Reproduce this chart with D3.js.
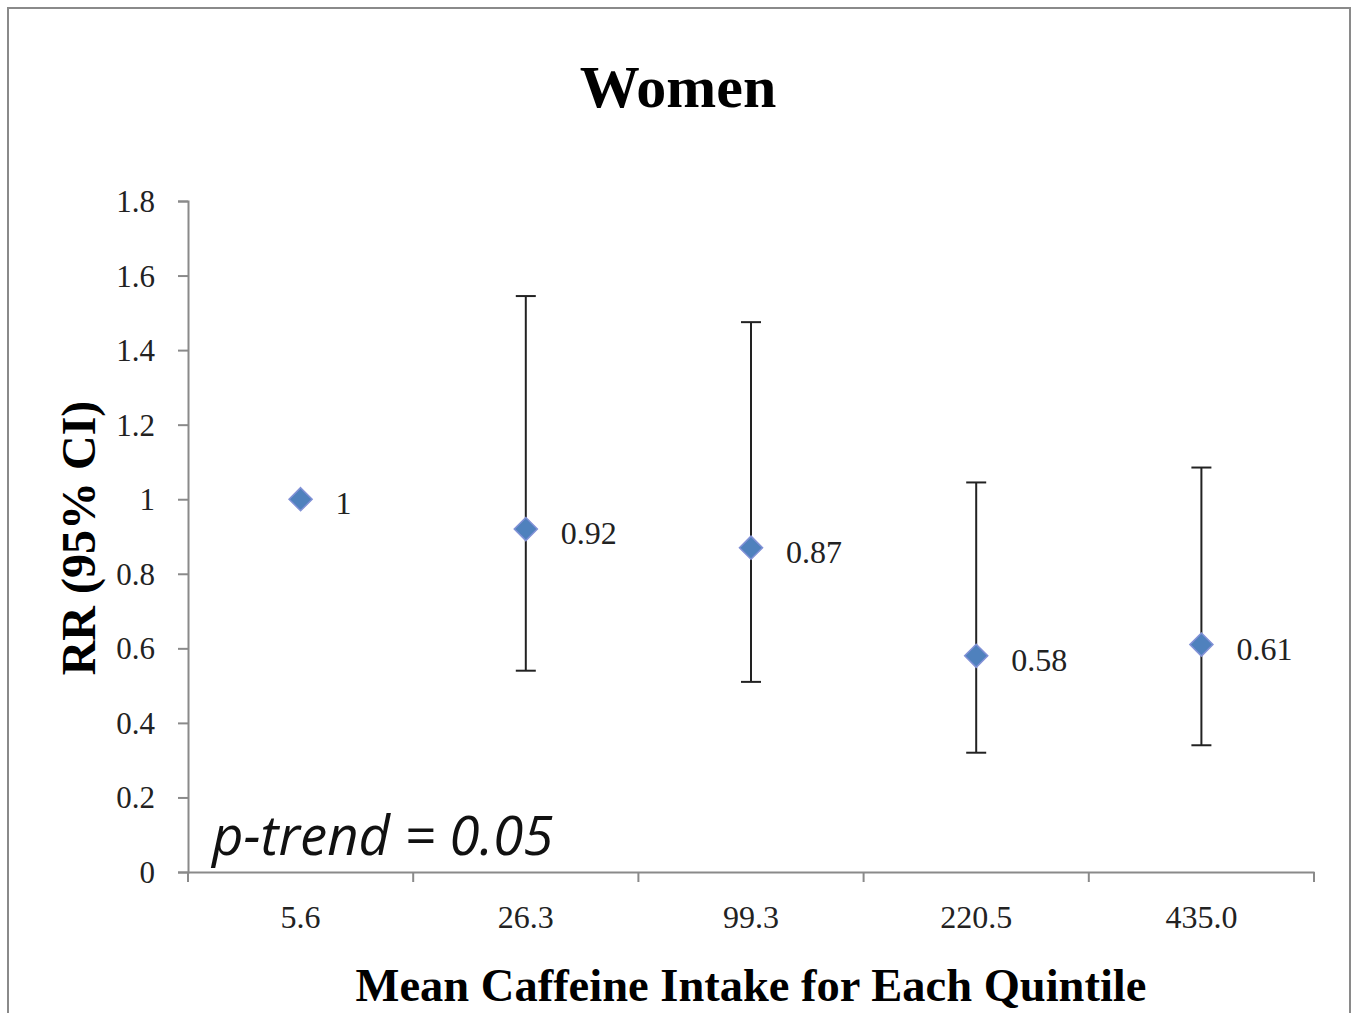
<!DOCTYPE html>
<html>
<head>
<meta charset="utf-8">
<script src="https://cdn.jsdelivr.net/npm/d3@7"></script>
<style>
  body { margin: 0; background: #fff; }
</style>
</head>
<body>
<script>
// quintile means and relative risks
var categories = ["5.6", "26.3", "99.3", "220.5", "435.0"];
var rr    = [1, 0.92, 0.87, 0.58, 0.61];
var lower = [null, 0.54, 0.51, 0.32, 0.34];
var upper = [null, 1.545, 1.475, 1.045, 1.085];
var rrLabels = ["1", "0.92", "0.87", "0.58", "0.61"];
var yTicks = [0, 0.2, 0.4, 0.6, 0.8, 1, 1.2, 1.4, 1.6, 1.8];

var width = 1355, height = 1013;
var serif = "'Liberation Serif', 'DejaVu Serif', serif";

var svg = d3.select("body").append("svg")
    .attr("width", width)
    .attr("height", height)
    .style("font-family", serif);

// outer frame
svg.append("rect")
    .attr("x", 8).attr("y", 8)
    .attr("width", 1342).attr("height", 1020)
    .attr("fill", "none")
    .attr("stroke", "#8a8a8a")
    .attr("stroke-width", 2);

var x = d3.scaleBand()
    .domain(categories)
    .range([188, 1314]);

var y = d3.scaleLinear()
    .domain([0, 1.8])
    .range([872, 201]);

var data = categories.map(function(c, i) {
  return { cat: c, rr: rr[i], lo: lower[i], hi: upper[i], label: rrLabels[i] };
});

// y axis
var yAxis = svg.append("g")
    .attr("transform", "translate(188,0)")
    .call(d3.axisLeft(y).tickValues(yTicks).tickSize(10).tickPadding(23)
      .tickFormat(function(d) { return String(+d.toFixed(1)); }));
yAxis.select(".domain").attr("stroke", "#8a8a8a").attr("stroke-width", 2);
yAxis.selectAll(".tick line").attr("stroke", "#8a8a8a").attr("stroke-width", 2);
yAxis.selectAll(".tick text")
    .style("font-family", serif)
    .attr("font-size", 31)
    .attr("fill", "#222")
    .attr("dy", "0.34em");

// x axis (ticks sit between categories)
var xAxis = svg.append("g")
    .attr("transform", "translate(0,872)")
    .call(d3.axisBottom(x).tickSize(0).tickPadding(33));
xAxis.select(".domain").attr("stroke", "#8a8a8a").attr("stroke-width", 2);
xAxis.selectAll(".tick text")
    .style("font-family", serif)
    .attr("font-size", 32)
    .attr("fill", "#222");

var bounds = categories.map(function(c) { return x(c); }).concat([x.range()[1]]);
xAxis.selectAll(".sep")
  .data(bounds)
  .enter().append("line")
    .attr("x1", function(d) { return d; })
    .attr("x2", function(d) { return d; })
    .attr("y1", 0)
    .attr("y2", 10)
    .attr("stroke", "#8a8a8a")
    .attr("stroke-width", 2);

var cx = function(d) { return x(d.cat) + x.bandwidth() / 2; };

// error bars
var bars = svg.append("g")
  .selectAll("g")
  .data(data.filter(function(d) { return d.lo !== null; }))
  .enter().append("g")
    .attr("stroke", "#222")
    .attr("stroke-width", 2);

bars.append("line")
    .attr("x1", cx).attr("x2", cx)
    .attr("y1", function(d) { return y(d.hi); })
    .attr("y2", function(d) { return y(d.lo); });
bars.append("line")
    .attr("x1", function(d) { return cx(d) - 10; })
    .attr("x2", function(d) { return cx(d) + 10; })
    .attr("y1", function(d) { return y(d.hi); })
    .attr("y2", function(d) { return y(d.hi); });
bars.append("line")
    .attr("x1", function(d) { return cx(d) - 10; })
    .attr("x2", function(d) { return cx(d) + 10; })
    .attr("y1", function(d) { return y(d.lo); })
    .attr("y2", function(d) { return y(d.lo); });

// diamond markers
svg.append("g")
  .selectAll("path")
  .data(data)
  .enter().append("path")
    .attr("d", d3.symbol().type(d3.symbolDiamond2).size(340))
    .attr("transform", function(d) { return "translate(" + cx(d) + "," + y(d.rr) + ")"; })
    .attr("fill", "#4f81bd")
    .attr("stroke", "#8191d6")
    .attr("stroke-width", 1.5);

// data labels
svg.append("g")
  .selectAll("text")
  .data(data)
  .enter().append("text")
    .attr("x", function(d) { return cx(d) + 35; })
    .attr("y", function(d) { return y(d.rr) + 15; })
    .attr("font-size", 32)
    .attr("fill", "#222")
    .text(function(d) { return d.label; });

// titles
svg.append("text")
    .attr("x", 678).attr("y", 107)
    .attr("text-anchor", "middle")
    .attr("font-size", 60)
    .attr("font-weight", "bold")
    .text("Women");

svg.append("text")
    .attr("transform", "translate(95,538) rotate(-90)")
    .attr("text-anchor", "middle")
    .attr("font-size", 48)
    .attr("font-weight", "bold")
    .text("RR (95% CI)");

svg.append("text")
    .attr("x", 751).attr("y", 1001)
    .attr("text-anchor", "middle")
    .attr("font-size", 46.5)
    .attr("font-weight", "bold")
    .text("Mean Caffeine Intake for Each Quintile");

svg.append("text")
    .attr("x", 212).attr("y", 855)
    .style("font-family", "'Open Sans', 'Liberation Sans', sans-serif")
    .style("font-style", "italic")
    .attr("font-size", 54.5)
    .attr("fill", "#111")
    .text("p-trend = 0.05");
</script>
</body>
</html>
